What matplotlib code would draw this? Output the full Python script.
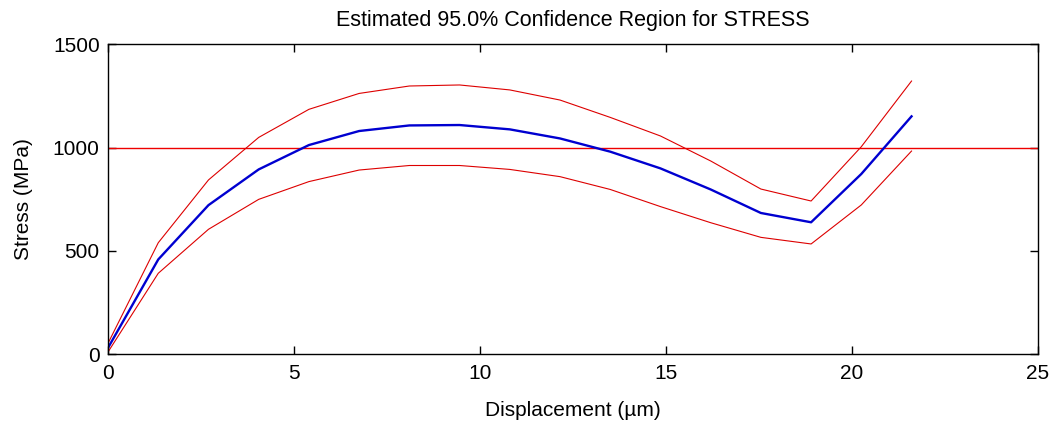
import matplotlib
matplotlib.use("Agg")
import matplotlib.pyplot as plt

# Displacement (µm) and stress estimates (MPa)
displacement = [0.0, 1.35, 2.7, 4.05, 5.4, 6.75, 8.1, 9.45, 10.8, 12.15,
                13.5, 14.85, 16.2, 17.55, 18.9, 20.25, 21.6]
stress_mean = [30, 458, 721, 894, 1012, 1080, 1107, 1109, 1088, 1044,
               980, 899, 797, 683, 638, 872, 1151]
stress_upper = [52, 539, 843, 1049, 1185, 1262, 1298, 1303, 1279, 1230,
                1146, 1056, 935, 799, 741, 1004, 1322]
stress_lower = [10, 391, 604, 749, 835, 891, 913, 913, 894, 859,
                797, 714, 636, 565, 533, 722, 983]
stress_limit = 1000

x_ticks = [0, 5, 10, 15, 20, 25]
y_ticks = [0, 500, 1000, 1500]

plt.rcParams['font.family'] = ['Liberation Sans', 'DejaVu Sans']

fig = plt.figure(figsize=(10.52, 4.30), dpi=100)
ax = fig.add_axes([0.1027, 0.1767, 0.884, 0.7203])

ax.axhline(stress_limit, color='#ee0000', lw=1.0)
ax.plot(displacement, stress_upper, color='#dd0000', lw=0.8)
ax.plot(displacement, stress_lower, color='#dd0000', lw=0.8)
ax.plot(displacement, stress_mean, color='#0000d0', lw=1.7)

ax.set_xlim(0, 25)
ax.set_ylim(0, 1500)
ax.set_xticks(x_ticks)
ax.set_yticks(y_ticks)
ax.tick_params(direction='in', top=True, right=True, length=6, width=1,
               labelsize=15)
ax.tick_params(axis='x', pad=7)
ax.tick_params(axis='y', pad=6)
for s in ax.spines.values():
    s.set_linewidth(1.0)

ax.set_xlabel('Displacement (µm)', fontsize=15, labelpad=13)
ax.set_ylabel('Stress (MPa)', fontsize=15, labelpad=14)
ax.set_title('Estimated 95.0% Confidence Region for STRESS', fontsize=15.5, pad=13)

fig.savefig('out.png', dpi=100)
